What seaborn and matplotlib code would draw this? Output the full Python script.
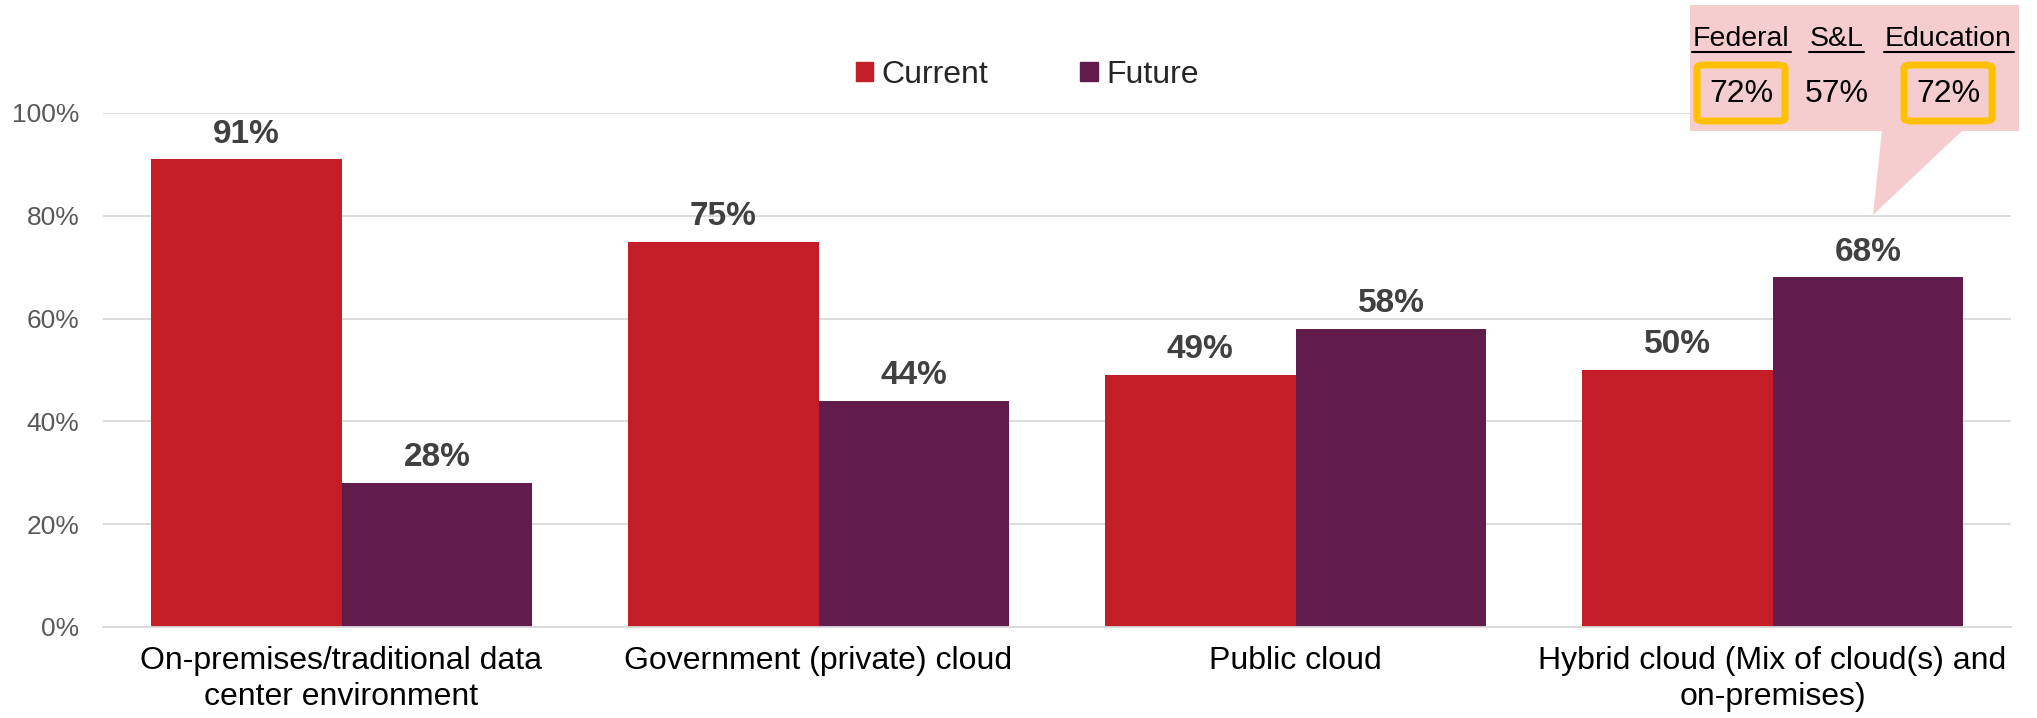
import numpy as np
import pandas as pd
import seaborn as sns
import matplotlib.pyplot as plt
from matplotlib.patches import Rectangle, Polygon, FancyBboxPatch
from matplotlib.lines import Line2D

# Deployment environments and share of respondents
categories = [
    "On-premises/traditional data\ncenter environment",
    "Government (private) cloud",
    "Public cloud",
    "Hybrid cloud (Mix of cloud(s) and\non-premises)",
]
current = [91, 75, 49, 50]
future = [28, 44, 58, 68]
series = ["Current", "Future"]
colors = ["#C31E27", "#621C4B"]

# Hybrid-cloud future breakdown by segment
segments = ["Federal", "S&L", "Education"]
segment_values = [72, 57, 72]
highlighted = [True, False, True]

yticks = [0, 20, 40, 60, 80, 100]

df = pd.DataFrame({
    "Category": categories * 2,
    "Period": [series[0]] * len(categories) + [series[1]] * len(categories),
    "Value": [v / 100 for v in current + future],
})

sns.set_theme(style="white")
plt.rcParams["font.family"] = ["Liberation Sans", "DejaVu Sans"]

W, H = 2037, 718
fig = plt.figure(figsize=(W / 100, H / 100), dpi=100)
ax = fig.add_axes([103 / W, 1 - 627 / H, (2011 - 103) / W, (627 - 113) / H])

sns.barplot(data=df, x="Category", y="Value", hue="Period",
            palette=colors, width=0.8, saturation=1, ax=ax,
            edgecolor="none", linewidth=0, legend=False)

for cont, vals in zip(ax.containers, [current, future]):
    ax.bar_label(cont, labels=[f"{v}%" for v in vals], padding=7,
                 fontsize=24, fontweight="bold", color="#404040")

ax.set_ylim(0, 1.0)
ax.set_xlim(-0.5, len(categories) - 0.5)
ax.set_yticks([t / 100 for t in yticks])
ax.set_yticklabels([f"{t}%" for t in yticks], fontsize=19, color="#595959")
ax.yaxis.grid(True, color="#D9D9D9", linewidth=1.3)
ax.set_axisbelow(True)
ax.set_xlabel("")
ax.set_ylabel("")
ax.tick_params(axis="y", length=0, pad=17)

# category labels between separator ticks
ax.set_xticks(np.arange(-0.5, len(categories)), minor=True)
ax.tick_params(axis="x", which="minor", length=8, width=1.3, color="#D9D9D9")
ax.tick_params(axis="x", which="major", length=0, pad=14)
ax.set_xticklabels(categories, fontsize=23, color="black", linespacing=1.25)

for side in ["top", "right", "left"]:
    ax.spines[side].set_visible(False)
ax.spines["bottom"].set_color("#D9D9D9")
ax.spines["bottom"].set_linewidth(1.3)

# legend
handles = [Rectangle((0, 0), 1, 1, color=c) for c in colors]
fig.legend(handles, series, loc="center", bbox_to_anchor=(1027 / W, 1 - 75 / H),
           ncol=2, frameon=False, fontsize=23, handlelength=0.55, handleheight=0.55,
           handletextpad=0.25, columnspacing=2.9)

# callout for the hybrid cloud breakdown
def fxy(px, py):
    return (px / W, 1 - py / H)

pink = "#F5CDCF"
fig.patches.append(Rectangle(fxy(1690, 131), (2019 - 1690) / W, (131 - 5) / H,
                             transform=fig.transFigure, facecolor=pink,
                             edgecolor="none", zorder=5))
fig.patches.append(Polygon([fxy(1882, 130), fxy(1963, 130), fxy(1873, 215)],
                           closed=True, transform=fig.transFigure,
                           facecolor=pink, edgecolor="none", zorder=5))

seg_x = [1741, 1837, 1948]
underline = [(1692, 1791), (1809, 1864), (1884, 2014)]
for name, val, hl, cx, (u0, u1) in zip(segments, segment_values, highlighted,
                                       seg_x, underline):
    fig.text(*fxy(cx, 39), name, ha="center", va="center", fontsize=20.5,
             color="black", zorder=6)
    fig.lines.append(Line2D([u0 / W, u1 / W], [1 - 52 / H, 1 - 52 / H],
                            transform=fig.transFigure, color="black",
                            linewidth=1.5, zorder=6))
    fig.text(*fxy(cx, 94), f"{val}%", ha="center", va="center", fontsize=23,
             color="black", zorder=6)
    if hl:
        x0, x1 = cx - 44, cx + 44
        fig.patches.append(FancyBboxPatch(fxy(x0, 121), (x1 - x0) / W, (121 - 65) / H,
                                          boxstyle="round,pad=0,rounding_size=0.004",
                                          transform=fig.transFigure,
                                          facecolor="none", edgecolor="#FFC000",
                                          linewidth=5, zorder=6))

fig.savefig("out.png", dpi=100)
